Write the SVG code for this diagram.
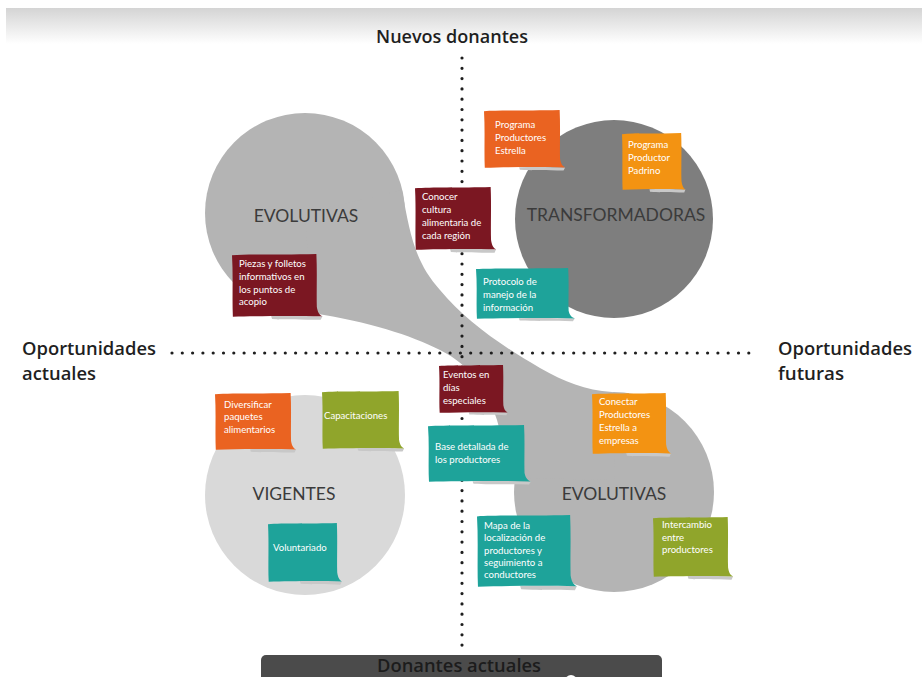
<svg xmlns="http://www.w3.org/2000/svg" xmlns:xlink="http://www.w3.org/1999/xlink" width="922" height="677" viewBox="0 0 922 677">
  <defs>
    <linearGradient id="topFade" x1="0" y1="0" x2="0" y2="1">
      <stop offset="0" stop-color="#d4d4d4"/>
      <stop offset="1" stop-color="#ffffff"/>
    </linearGradient>
    <!-- sticky note outline in a 100x100 box, scaled per note -->
    <path id="noteShape" d="M0,2 C20,0 60,1.5 97,0 C98,30 97,60 97.5,84 C98.5,92 100,96 104,99 C70,97.5 30,98.5 1,99.5 C0,70 1.5,35 0,2 Z"/>
    <path id="noteShadow" d="M45,98.5 C70,97.5 90,98.5 104,99 L102,104.5 C80,103.5 60,104.5 46,103 Z"/>
    <style>
      .axis { fill: none; stroke: #1e1e1e; stroke-width: 3.2; stroke-linecap: round; stroke-dasharray: 0 10.3; }
      .axisLabel { font-family: "Open Sans", "Liberation Sans", sans-serif; font-weight: 600; font-size: 18px; fill: #1f1f1f; }
      .zone { font-family: Lato, "Liberation Sans", sans-serif; font-size: 17.5px; fill: #3b3b3b; text-anchor: middle; }
      .note { font-family: Lato, "Liberation Sans", sans-serif; font-size: 9.6px; fill: #ffffff; }
      .shadow { fill: #c8c8c8; }
      .red { fill: #7b1722; }
      .teal { fill: #1ea39a; }
      .orange { fill: #ea6321; }
      .amber { fill: #f39312; }
      .olive { fill: #90a52b; }
    </style>
  </defs>

  <!-- page background -->
  <rect x="0" y="0" width="922" height="677" fill="#ffffff"/>
  <rect x="6" y="8" width="916" height="36" fill="url(#topFade)"/>

  <!-- quadrant zones -->
  <g id="zone-evolutivas-s" fill="#b4b4b4">
    <circle cx="305" cy="213" r="100"/>
    <circle cx="614" cy="492" r="100"/>
    <path d="M402,190 C410,235 415,262 440,290 C465,320 500,345 540,368 C565,382 585,390 612,392 L615,480 L517,478 C508,455 502,440 497,420 C488,390 470,365 440,350 C410,335 370,322 312,313 L305,213 Z"/>
  </g>
  <g id="zone-transformadoras">
    <circle cx="614" cy="219" r="99" fill="#7e7e7e"/>
  </g>
  <g id="zone-vigentes">
    <circle cx="305" cy="495" r="100" fill="#d9d9d9"/>
  </g>

  <!-- axes -->
  <g id="connectors">
    <line class="axis" x1="462" y1="58" x2="462" y2="648"/>
    <line class="axis" x1="172" y1="353" x2="757" y2="353"/>
  </g>

  <!-- axis labels -->
  <g id="label-nuevos">
    <text class="axisLabel" x="376" y="43" textLength="152" lengthAdjust="spacingAndGlyphs">Nuevos donantes</text>
  </g>
  <g id="label-actuales">
    <text class="axisLabel" x="22" y="355" textLength="134" lengthAdjust="spacingAndGlyphs">Oportunidades</text>
    <text class="axisLabel" x="22" y="380" textLength="74" lengthAdjust="spacingAndGlyphs">actuales</text>
  </g>
  <g id="label-futuras">
    <text class="axisLabel" x="778" y="355" textLength="134" lengthAdjust="spacingAndGlyphs">Oportunidades</text>
    <text class="axisLabel" x="778" y="380" textLength="66" lengthAdjust="spacingAndGlyphs">futuras</text>
  </g>

  <!-- zone titles -->
  <g id="title-evolutivas-top"><text class="zone" x="306" y="222">EVOLUTIVAS</text></g>
  <g id="title-transformadoras"><text class="zone" x="616" y="221">TRANSFORMADORAS</text></g>
  <g id="title-vigentes"><text class="zone" x="294" y="500">VIGENTES</text></g>
  <g id="title-evolutivas-bottom"><text class="zone" x="614" y="500">EVOLUTIVAS</text></g>

  <!-- sticky notes -->
  <g id="note-productores-estrella">
    <use href="#noteShadow" class="shadow" transform="translate(484,110) scale(0.78,0.58)"/>
    <use href="#noteShape" class="orange" transform="translate(484,110) scale(0.78,0.58)"/>
    <text class="note" x="495"><tspan x="495" y="128">Programa</tspan><tspan x="495" y="141">Productores</tspan><tspan x="495" y="154">Estrella</tspan></text>
  </g>

  <g id="note-productor-padrino">
    <use href="#noteShadow" class="shadow" transform="translate(622,133) scale(0.61,0.57)"/>
    <use href="#noteShape" class="amber" transform="translate(622,133) scale(0.61,0.57)"/>
    <text class="note"><tspan x="628" y="148">Programa</tspan><tspan x="628" y="161">Productor</tspan><tspan x="628" y="174">Padrino</tspan></text>
  </g>

  <g id="note-cultura">
    <use href="#noteShadow" class="shadow" transform="translate(415,187) scale(0.78,0.63)"/>
    <use href="#noteShape" class="red" transform="translate(415,187) scale(0.78,0.63)"/>
    <text class="note"><tspan x="422" y="200">Conocer</tspan><tspan x="422" y="213">cultura</tspan><tspan x="422" y="226">alimentaria de</tspan><tspan x="422" y="239">cada región</tspan></text>
  </g>

  <g id="note-protocolo">
    <use href="#noteShadow" class="shadow" transform="translate(476,268) scale(0.95,0.51)"/>
    <use href="#noteShape" class="teal" transform="translate(476,268) scale(0.95,0.51)"/>
    <text class="note"><tspan x="483" y="285">Protocolo de</tspan><tspan x="483" y="298">manejo de la</tspan><tspan x="483" y="311">información</tspan></text>
  </g>

  <g id="note-piezas">
    <use href="#noteShadow" class="shadow" transform="translate(232,254) scale(0.87,0.63)"/>
    <use href="#noteShape" class="red" transform="translate(232,254) scale(0.87,0.63)"/>
    <text class="note"><tspan x="239" y="267">Piezas y folletos</tspan><tspan x="239" y="280">informativos en</tspan><tspan x="239" y="293">los puntos de</tspan><tspan x="239" y="305">acopio</tspan></text>
  </g>

  <g id="note-eventos">
    <use href="#noteShadow" class="shadow" transform="translate(439,365) scale(0.66,0.48)"/>
    <use href="#noteShape" class="red" transform="translate(439,365) scale(0.66,0.48)"/>
    <text class="note"><tspan x="443" y="378">Eventos en</tspan><tspan x="443" y="391">días</tspan><tspan x="443" y="404">especiales</tspan></text>
  </g>

  <g id="note-base-detallada">
    <use href="#noteShadow" class="shadow" transform="translate(428,425) scale(0.99,0.57)"/>
    <use href="#noteShape" class="teal" transform="translate(428,425) scale(0.99,0.57)"/>
    <text class="note"><tspan x="435" y="450">Base detallada de</tspan><tspan x="435" y="463">los productores</tspan></text>
  </g>

  <g id="note-conectar">
    <use href="#noteShadow" class="shadow" transform="translate(592,393) scale(0.76,0.61)"/>
    <use href="#noteShape" class="amber" transform="translate(592,393) scale(0.76,0.61)"/>
    <text class="note"><tspan x="599" y="405">Conectar</tspan><tspan x="599" y="418">Productores</tspan><tspan x="599" y="431">Estrella a</tspan><tspan x="599" y="444">empresas</tspan></text>
  </g>

  <g id="note-diversificar">
    <use href="#noteShadow" class="shadow" transform="translate(215,393) scale(0.78,0.57)"/>
    <use href="#noteShape" class="orange" transform="translate(215,393) scale(0.78,0.57)"/>
    <text class="note"><tspan x="224" y="408">Diversificar</tspan><tspan x="224" y="420">paquetes</tspan><tspan x="224" y="433">alimentarios</tspan></text>
  </g>

  <g id="note-capacitaciones">
    <use href="#noteShadow" class="shadow" transform="translate(322,391) scale(0.79,0.58)"/>
    <use href="#noteShape" class="olive" transform="translate(322,391) scale(0.79,0.58)"/>
    <text class="note" x="324" y="419">Capacitaciones</text>
  </g>

  <g id="note-voluntariado">
    <use href="#noteShadow" class="shadow" transform="translate(268,523) scale(0.71,0.59)"/>
    <use href="#noteShape" class="teal" transform="translate(268,523) scale(0.71,0.59)"/>
    <text class="note" x="273" y="551">Voluntariado</text>
  </g>

  <g id="note-mapa">
    <use href="#noteShadow" class="shadow" transform="translate(477,515) scale(0.96,0.72)"/>
    <use href="#noteShape" class="teal" transform="translate(477,515) scale(0.96,0.72)"/>
    <text class="note"><tspan x="484" y="529">Mapa de la</tspan><tspan x="484" y="541">localización de</tspan><tspan x="484" y="554">productores y</tspan><tspan x="484" y="566">seguimiento a</tspan><tspan x="484" y="578">conductores</tspan></text>
  </g>

  <g id="note-intercambio">
    <use href="#noteShadow" class="shadow" transform="translate(653,517) scale(0.77,0.6)"/>
    <use href="#noteShape" class="olive" transform="translate(653,517) scale(0.77,0.6)"/>
    <text class="note"><tspan x="662" y="528">Intercambio</tspan><tspan x="662" y="541">entre</tspan><tspan x="662" y="553">productores</tspan></text>
  </g>

  <!-- bottom axis label bar -->
  <g id="label-donantes-actuales">
    <rect x="261" y="655" width="401" height="30" rx="5" fill="#4b4b4b"/>
    <circle cx="571" cy="681" r="6" fill="#ffffff"/>
    <text x="459" y="672" text-anchor="middle" font-family="'Open Sans', 'Liberation Sans', sans-serif" font-weight="600" font-size="18" fill="#1c1c1c" textLength="164" lengthAdjust="spacingAndGlyphs">Donantes actuales</text>
  </g>
</svg>
